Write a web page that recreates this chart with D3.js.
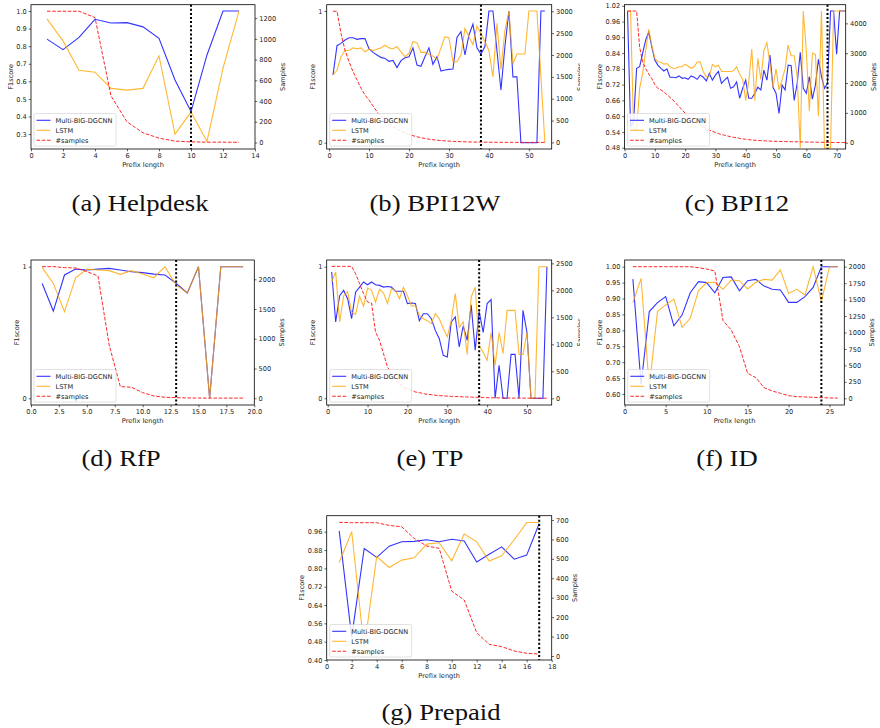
<!DOCTYPE html>
<html>
<head>
<meta charset="utf-8">
<script src="https://cdn.jsdelivr.net/npm/d3@7"></script>
<style>
  body { margin: 0; background: #fff; }
  svg { display: block; }
  .tick text { font-family: "DejaVu Sans", sans-serif; font-size: 6.6px; fill: #222; }
  .tick line { stroke: #000; stroke-width: 0.6; }
</style>
</head>
<body>
<svg id="chart" width="880" height="728"></svg>
<script>
// ---- data (index i -> prefix length i+1) ----
var helpdeskDgcnn = [0.84,0.78,0.85,0.953,0.932,0.934,0.91,0.845,0.608,0.428,0.75,1.0,1.0]
var helpdeskLstm = [0.955,0.83,0.663,0.652,0.56,0.55,0.56,0.745,0.30,0.425,0.258,0.675,1.0]
var helpdeskSamples = [1267,1267,1267,1206,449,199,93,42,13,6,3,3,1]

var bpi12wDgcnn = [0.514,0.737,0.754,0.78,0.797,0.797,0.785,0.79,0.79,0.714,
  0.686,0.666,0.648,0.64,0.618,0.625,0.57,0.623,0.645,0.653,
  0.72,0.59,0.58,0.653,0.72,0.595,0.653,0.544,0.552,0.557,
  0.56,0.80,0.843,0.666,0.818,0.90,0.72,0.673,0.73,1.0,
  1.0,0.70,0.40,0.73,1.0,0.50,0.50,0,0,0,
  0,0,1,1]
var bpi12wLstm = [0.514,0.55,0.653,0.70,0.70,0.72,0.714,0.72,0.69,0.71,
  0.70,0.71,0.72,0.74,0.72,0.714,0.73,0.69,0.653,0.68,
  0.767,0.76,0.686,0.686,0.67,0.658,0.633,0.72,0.805,0.797,
  0.615,0.615,0.666,0.868,0.805,0.744,0.886,0.83,0.767,0.70,
  0.50,0.906,0.557,0.853,1.0,0.60,0.673,0.673,0.673,1.0,
  1.0,1.0,0.5,0]
var bpi12wSamples = [3000,3000,2490,2110,1845,1620,1430,1240,1085,970,
  835,705,600,510,430,365,310,260,220,185,
  155,130,110,90,75,62,52,43,36,30,
  25,21,18,15,12,10,8,7,6,5,
  4,3,3,2,2,2,1,1,1,1,
  1,1,1,1]

var bpi12Dgcnn = [1.0,0.56,0.58,0.782,0.788,0.84,0.89,0.92,0.864,0.813,
  0.794,0.782,0.772,0.78,0.748,0.748,0.746,0.753,0.744,0.746,
  0.74,0.753,0.748,0.74,0.756,0.748,0.734,0.763,0.737,0.756,
  0.77,0.725,0.737,0.748,0.706,0.712,0.73,0.668,0.706,0.737,
  0.668,0.668,0.687,0.71,0.70,0.775,0.737,0.832,0.71,0.687,
  0.61,0.718,0.70,0.794,0.792,0.66,0.725,0.843,0.706,0.687,
  0.75,0.665,0.718,0.816,0.75,0.706,0.725,1.0,1.0,0.836,
  1.0,1.0,1.0]
var bpi12Lstm = [1.0,1.0,0.55,0.55,0.706,0.763,0.85,0.93,0.87,0.82,
  0.807,0.805,0.798,0.80,0.788,0.782,0.782,0.788,0.788,0.798,
  0.79,0.782,0.788,0.806,0.807,0.77,0.75,0.75,0.797,0.788,
  0.794,0.77,0.77,0.77,0.77,0.773,0.788,0.76,0.74,0.66,
  0.73,0.855,0.66,0.82,0.74,0.85,0.88,0.80,0.71,0.78,
  0.70,0.74,0.78,0.87,0.83,0.83,0.75,0.48,1.0,0.85,
  0.62,0.84,0.835,0.60,1.0,0.48,0.48,0.48,1.0,1.0,
  1.0,1.0,1.0]
var bpi12Samples = [4413,4413,4413,4413,3200,2700,2480,2300,2150,1950,
  1820,1770,1700,1610,1520,1430,1320,1210,1100,990,
  900,820,740,660,590,530,475,425,380,340,
  305,275,250,225,200,180,165,145,128,112,
  100,90,82,74,67,62,57,52,48,45,
  42,39,37,35,33,31,29,27,25,22,
  20,18,16,14,12,10,8,7,6,5,
  4,3,3]

var rfpDgcnn = [0.873,0.663,0.937,0.982,0.975,0.982,0.987,0.975,0.962,0.955,0.944,0.937,0.873,0.80,1.0,0,1,1,1]
var rfpLstm = [0.995,0.873,0.658,0.916,0.982,0.975,0.97,0.942,0.97,0.944,0.916,1.0,0.86,0.80,1,0,1,1,1]
var rfpSamples = [2213,2213,2196,2190,2129,2056,896,196,185,95,39,17,11,5,4,3,3,3,3]

var tpDgcnn = [0.96,0.58,0.78,0.82,0.757,0.605,0.807,0.845,0.884,0.863,
  0.884,0.863,0.858,0.845,0.85,0.845,0.813,0.813,0.813,0.72,
  0.724,0.72,0.59,0.643,0.643,0.605,0.516,0.453,0.327,0.314,
  0.58,0.618,0.39,0.55,0.44,0.71,0.365,0.66,0.50,0.72,
  0.75,0,0.25,0,0,0.334,0.334,0,0.668,0.50,
  0,0,0,0,1.0]
var tpLstm = [0.884,0.96,0.58,0.78,0.81,0.655,0.638,0.775,0.70,0.838,
  0.82,0.73,0.828,0.80,0.72,0.833,0.82,0.757,0.845,0.78,
  0.70,0.706,0.63,0.605,0.59,0.567,0.643,0.605,0.53,0.466,
  0.59,0.795,0.54,0.58,0.334,0.77,0.845,0.40,0.35,0.29,
  0.50,0.25,0.50,0.34,0.668,0.668,0.668,0.334,0.334,0.50,
  0,0,1,1,1]
var tpSamples = [2444,2444,2444,2444,2444,2444,2309,2123,1938,1784,
  1765,1228,1074,827,580,457,333,272,210,179,
  148,117,105,86,74,68,56,50,45,40,
  36,33,30,27,25,22,20,18,16,12,
  10,9,8,7,5,5,4,4,3,3,
  3,2,2,2,2]

var idDgcnn = [0.961,0.63,0.859,0.887,0.906,0.814,0.848,0.918,0.953,0.95,0.918,0.966,0.968,0.924,0.956,0.96,0.939,0.929,0.927,0.888,0.888,0.906,0.935,1.0,1.0,1.0]
var idLstm = [0.887,0.963,0.62,0.859,0.88,0.898,0.809,0.838,0.924,0.95,0.951,0.929,0.958,0.956,0.93,0.951,0.96,0.958,0.99,0.916,0.929,0.911,1.0,0.89,1.0,1.0]
var idSamples = [2000,2000,2000,2000,2000,2000,2000,2000,1985,1965,1934,1180,1038,785,380,314,162,111,76,40,25,20,15,10,5,3]

var prepaidDgcnn = [0.964,0.50,0.887,0.848,0.897,0.916,0.918,0.925,0.916,0.927,0.92,0.828,0.862,0.894,0.84,0.858,0.996]
var prepaidLstm = [0.826,0.96,0.45,0.851,0.804,0.836,0.846,0.906,0.912,0.833,0.95,0.916,0.832,0.855,0.925,1.0,1.0]
var prepaidSamples = [688,686,686,686,672,665,605,566,554,334,288,120,60,48,26,14,10]

// ticks
var helpdeskXTicks = [0,2,4,6,8,10,12,14], helpdeskYTicks = [0.3,0.4,0.5,0.6,0.7,0.8,0.9,1.0], helpdeskSTicks = [0,200,400,600,800,1000,1200]
var bpi12wXTicks = [0,10,20,30,40,50], bpi12wYTicks = [0,1], bpi12wSTicks = [0,500,1000,1500,2000,2500,3000]
var bpi12XTicks = [0,10,20,30,40,50,60,70], bpi12YTicks = [0.48,0.54,0.60,0.66,0.72,0.78,0.84,0.90,0.96,1.02], bpi12STicks = [0,1000,2000,3000,4000]
var rfpXTicks = [0,2.5,5,7.5,10,12.5,15,17.5,20], rfpYTicks = [0,1], rfpSTicks = [0,500,1000,1500,2000]
var tpXTicks = [0,10,20,30,40,50], tpYTicks = [0,1], tpSTicks = [0,500,1000,1500,2000,2500]
var idXTicks = [0,5,10,15,20,25], idYTicks = [0.60,0.65,0.70,0.75,0.80,0.85,0.90,0.95,1.00], idSTicks = [0,250,500,750,1000,1250,1500,1750,2000]
var prepaidXTicks = [0,2,4,6,8,10,12,14,16,18], prepaidYTicks = [0.40,0.48,0.56,0.64,0.72,0.80,0.88,0.96], prepaidSTicks = [0,100,200,300,400,500,600,700]

var seriesNames = ['Multi-BIG-DGCNN', 'LSTM', '#samples']
var cutoffs = {helpdesk: 10, bpi12w: 38, bpi12: 67, rfp: 13, tp: 38, id: 24, prepaid: 17}

var panels = [
  {cap: '(a) Helpdesk', capX: 140, capY: 211, col: [0, 290], box: [31, 255, 4.7, 149],
   xd: [0, 14], yd: [0.215, 1.036], sd: [-63, 1330],
   dg: helpdeskDgcnn, ls: helpdeskLstm, sm: helpdeskSamples, cut: cutoffs.helpdesk,
   xt: helpdeskXTicks, yt: helpdeskYTicks, st: helpdeskSTicks, xf: 'd', yf: '.1f'},
  {cap: '(b) BPI12W', capX: 435, capY: 211, col: [290, 580], box: [326.7, 551.7, 4.7, 149],
   xd: [-0.58, 55.7], yd: [-0.048, 1.048], sd: [-150, 3150],
   dg: bpi12wDgcnn, ls: bpi12wLstm, sm: bpi12wSamples, cut: cutoffs.bpi12w,
   xt: bpi12wXTicks, yt: bpi12wYTicks, st: bpi12wSTicks, xf: 'd', yf: 'd'},
  {cap: '(c) BPI12', capX: 737, capY: 211, col: [580, 880], box: [624.5, 845.7, 4.7, 149],
   xd: [0, 73], yd: [0.475, 1.024], sd: [-212, 4626],
   dg: bpi12Dgcnn, ls: bpi12Lstm, sm: bpi12Samples, cut: cutoffs.bpi12,
   xt: bpi12XTicks, yt: bpi12YTicks, st: bpi12STicks, xf: 'd', yf: '.2f'},
  {cap: '(d) RfP', capX: 121, capY: 466, col: [0, 290], box: [31, 254.3, 260, 405],
   xd: [0, 20], yd: [-0.051, 1.051], sd: [-113, 2324],
   dg: rfpDgcnn, ls: rfpLstm, sm: rfpSamples, cut: cutoffs.rfp,
   xt: rfpXTicks, yt: rfpYTicks, st: rfpSTicks, xf: '.1f', yf: 'd'},
  {cap: '(e) TP', capX: 430, capY: 466, col: [290, 580], box: [326.7, 551.7, 260, 405],
   xd: [-0.25, 56.2], yd: [-0.051, 1.051], sd: [-124, 2562],
   dg: tpDgcnn, ls: tpLstm, sm: tpSamples, cut: cutoffs.tp,
   xt: tpXTicks, yt: tpYTicks, st: tpSTicks, xf: 'd', yf: 'd'},
  {cap: '(f) ID', capX: 727, capY: 466, col: [580, 880], box: [624.7, 844.3, 260, 405],
   xd: [0, 26.8], yd: [0.5655, 1.021], sd: [-102, 2102],
   dg: idDgcnn, ls: idLstm, sm: idSamples, cut: cutoffs.id,
   xt: idXTicks, yt: idYTicks, st: idSTicks, xf: 'd', yf: '.2f'},
  {cap: '(g) Prepaid', capX: 441, capY: 720, col: [290, 580], box: [326.7, 551.7, 515.7, 660],
   xd: [0, 18], yd: [0.40, 1.03], sd: [-20.6, 722],
   dg: prepaidDgcnn, ls: prepaidLstm, sm: prepaidSamples, cut: cutoffs.prepaid,
   xt: prepaidXTicks, yt: prepaidYTicks, st: prepaidSTicks, xf: 'd', yf: '.2f'}
]

var BLUE = '#0000ff', ORANGE = '#ffa500', RED = '#ff0000'
var FONT = '"DejaVu Sans", sans-serif'

var svg = d3.select('#chart')
var defs = svg.append('defs')

panels.forEach((p, pi) => {
  var [l, r, t, b] = p.box
  var x = d3.scaleLinear().domain(p.xd).range([l, r])
  var y = d3.scaleLinear().domain(p.yd).range([b, t])
  var ys = d3.scaleLinear().domain(p.sd).range([b, t])

  defs.append('clipPath').attr('id', 'col' + pi)
    .append('rect').attr('x', p.col[0]).attr('y', 0).attr('width', p.col[1] - p.col[0]).attr('height', 728)
  defs.append('clipPath').attr('id', 'plot' + pi)
    .append('rect').attr('x', l).attr('y', t).attr('width', r - l).attr('height', b - t)

  var g = svg.append('g').attr('clip-path', 'url(#col' + pi + ')')
  var pg = g.append('g').attr('clip-path', 'url(#plot' + pi + ')')

  var lineF = d3.line().x((d, i) => x(i + 1)).y(d => y(d))
  var lineS = d3.line().x((d, i) => x(i + 1)).y(d => ys(d))

  pg.append('path').attr('d', lineF(p.dg))
    .attr('fill', 'none').attr('stroke', BLUE).attr('stroke-width', 1.1).attr('stroke-opacity', 0.8)
  pg.append('path').attr('d', lineF(p.ls))
    .attr('fill', 'none').attr('stroke', ORANGE).attr('stroke-width', 1.1).attr('stroke-opacity', 0.8)

  // cutoff line
  g.append('line').attr('x1', x(p.cut)).attr('x2', x(p.cut)).attr('y1', t).attr('y2', b)
    .attr('stroke', '#000').attr('stroke-width', 2).attr('stroke-dasharray', '2,2.1')

  pg.append('path').attr('d', lineS(p.sm))
    .attr('fill', 'none').attr('stroke', RED).attr('stroke-width', 1).attr('stroke-opacity', 0.85)
    .attr('stroke-dasharray', '3.6,1.6')

  g.append('rect').attr('x', l).attr('y', t).attr('width', r - l).attr('height', b - t)
    .attr('fill', 'none').attr('stroke', '#000').attr('stroke-width', 0.8)

  g.append('g').attr('transform', `translate(0,${b})`)
    .call(d3.axisBottom(x).tickValues(p.xt).tickFormat(d3.format(p.xf)).tickSizeInner(2.3).tickSizeOuter(0).tickPadding(2))
  var ayl = g.append('g').attr('transform', `translate(${l},0)`)
    .call(d3.axisLeft(y).tickValues(p.yt).tickFormat(d3.format(p.yf)).tickSizeInner(2.3).tickSizeOuter(0).tickPadding(2))
  var ayr = g.append('g').attr('transform', `translate(${r},0)`)
    .call(d3.axisRight(ys).tickValues(p.st).tickFormat(d3.format('d')).tickSizeInner(2.3).tickSizeOuter(0).tickPadding(2))
  g.selectAll('.domain').remove()
  g.selectAll('.tick text').attr('font-family', null).attr('font-size', null)

  var wl = d3.max(ayl.selectAll('text').nodes(), n => n.getComputedTextLength())
  var wr = d3.max(ayr.selectAll('text').nodes(), n => n.getComputedTextLength())

  g.append('text').text('Prefix length')
    .attr('x', (l + r) / 2).attr('y', b + 17.5).attr('text-anchor', 'middle')
    .attr('font-family', FONT).attr('font-size', 6.6).attr('fill', '#222')
  g.append('text').text('F1score')
    .attr('transform', `translate(${l - 4.6 - wl - 3},${(t + b) / 2}) rotate(-90)`)
    .attr('text-anchor', 'middle')
    .attr('font-family', FONT).attr('font-size', 6.6).attr('fill', '#222')
  g.append('text').text('Samples')
    .attr('transform', `translate(${r + 4.6 + wr + 8.5},${(t + b) / 2}) rotate(-90)`)
    .attr('text-anchor', 'middle')
    .attr('font-family', FONT).attr('font-size', 6.6).attr('fill', '#222')

  // legend
  var lx = l + 3, lh = 32.5, ly = b - 3 - lh
  var lg = g.append('g')
  lg.append('rect').attr('x', lx).attr('y', ly).attr('width', 82).attr('height', lh).attr('rx', 1.5)
    .attr('fill', '#fff').attr('fill-opacity', 0.85).attr('stroke', '#ccc').attr('stroke-width', 0.6)
  var styles = [
    {c: BLUE, dash: null, o: 0.8},
    {c: ORANGE, dash: null, o: 0.8},
    {c: RED, dash: '3.6,1.6', o: 0.85}
  ]
  seriesNames.forEach((name, i) => {
    var yy = ly + 6.8 + i * 10
    lg.append('line').attr('x1', lx + 2.5).attr('x2', lx + 16.5).attr('y1', yy).attr('y2', yy)
      .attr('stroke', styles[i].c).attr('stroke-width', 1.1).attr('stroke-opacity', styles[i].o)
      .attr('stroke-dasharray', styles[i].dash)
    lg.append('text').text(name).attr('x', lx + 21.5).attr('y', yy + 2.3)
      .attr('font-family', FONT).attr('font-size', 6.6).attr('fill', '#222')
  })

  // caption (stretched a little to match the wider LaTeX serif)
  svg.append('text').text(p.cap)
    .attr('transform', `translate(${p.capX},${p.capY}) scale(1.16,1)`)
    .attr('text-anchor', 'middle')
    .attr('font-family', '"Liberation Serif", serif').attr('font-size', 23).attr('fill', '#111')
})
</script>
</body>
</html>
